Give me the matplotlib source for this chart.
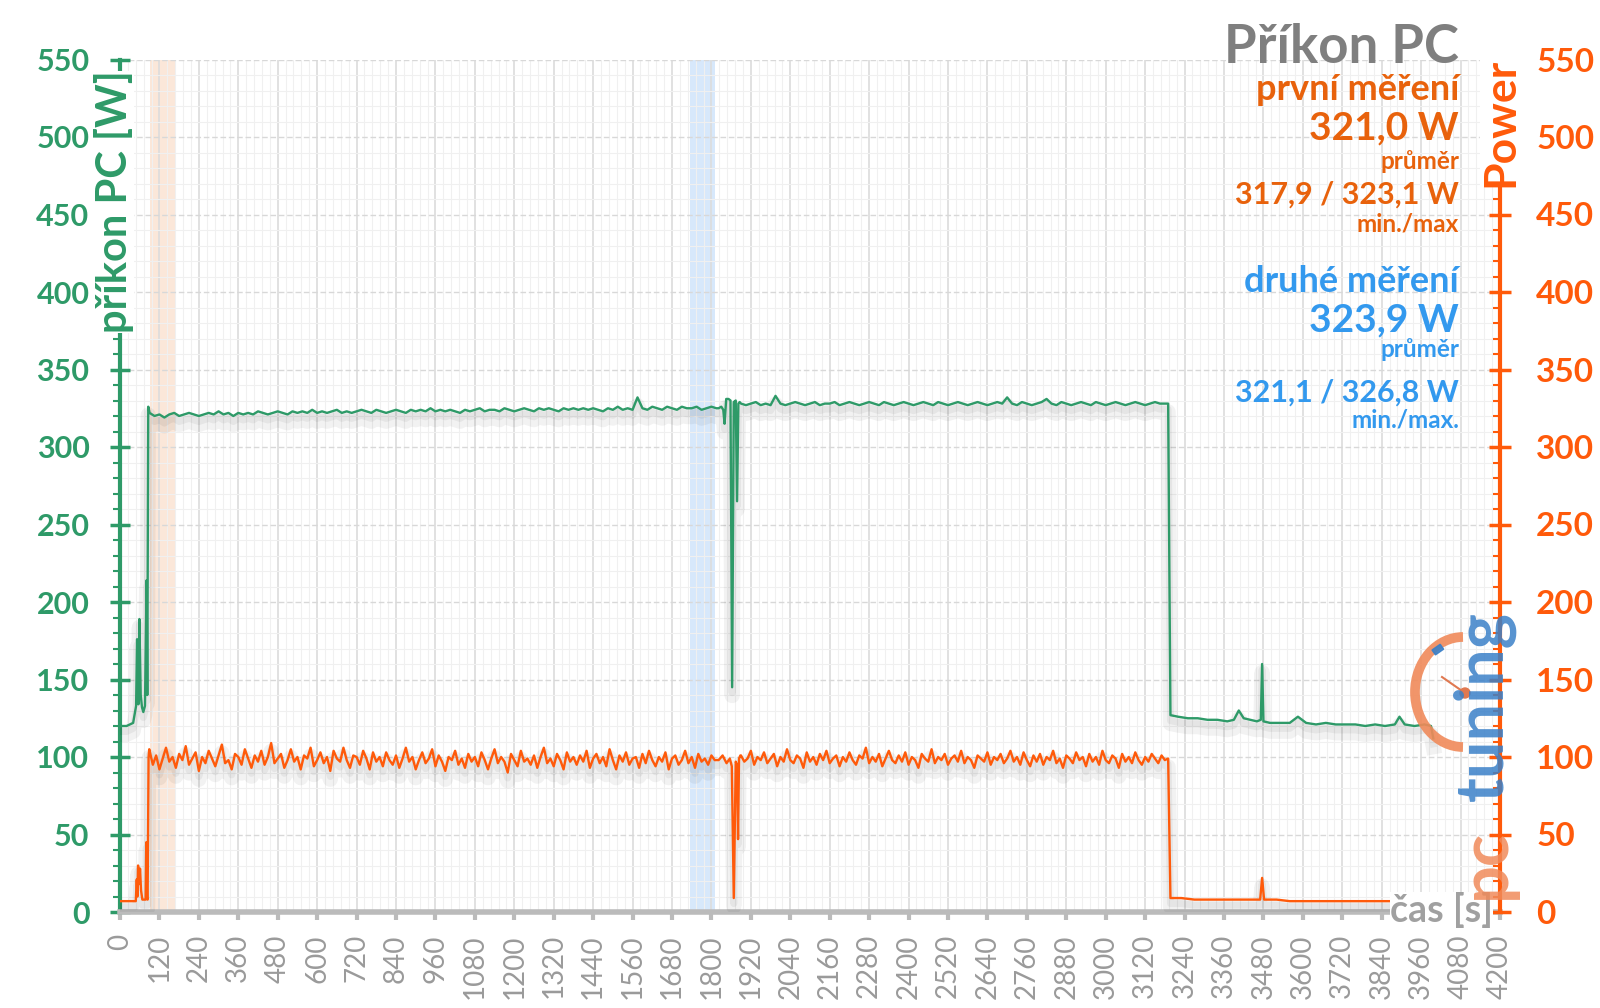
import numpy as np
import matplotlib
matplotlib.use('AGG')
import matplotlib.pyplot as plt
import matplotlib.patheffects as pe
from matplotlib.patches import Arc, Circle, Rectangle
from matplotlib.ticker import MultipleLocator

plt.rcParams['font.family'] = ['Lato', 'DejaVu Sans']

GREEN = '#2e9a68'
ORANGE = '#ff5a0a'
ORANGE_TXT = '#e8620c'
BLUE = '#3399ee'
GRAY = '#7f7f7f'

# --- data ---
# start-up phase
green_t_start = [0, 20, 40, 49, 52, 56, 59, 63, 67, 71, 76, 81, 83, 86]
green_v_start = [120, 120, 122, 133, 176, 134, 189, 140, 132, 129, 133, 214, 140, 326]
orange_t_start = [0, 48, 51, 53, 55, 58, 61, 64, 68, 72, 78, 80, 82, 84, 87, 89]
orange_v_start = [7, 7, 21, 10, 30, 18, 28, 14, 8, 8, 8, 45, 9, 8, 100, 105]

# plateaus: green sampled every 15 s, orange every 10 s
plateau1_start = 90
plateau2_start = 1890
green_step = 15
orange_step = 10

green_plateau1 = [
    322, 320, 321, 319, 321, 322, 320, 321, 322, 321,
    320, 321, 322, 321, 323, 321, 322, 320, 322, 321,
    322, 321, 323, 322, 321, 322, 323, 322, 321, 323,
    322, 323, 322, 324, 322, 323, 322, 323, 324, 322,
    323, 322, 323, 324, 323, 322, 324, 323, 322, 323,
    324, 323, 322, 324, 323, 324, 323, 325, 323, 324,
    323, 324, 323, 322, 324, 323, 324, 325, 323, 324,
    324, 323, 325, 324, 323, 324, 325, 324, 323, 325,
    324, 325, 324, 323, 325, 324, 325, 324, 325, 324,
    325, 324, 323, 325, 324, 326, 324, 325, 324, 332,
    325, 324, 326, 325, 324, 326, 325, 324, 326, 325,
    325, 326, 324, 325, 326, 325]
orange_plateau1 = [
    104, 95, 101, 92, 99, 106, 97, 100, 93, 102,
    98, 107, 95, 99, 103, 91, 100, 96, 104, 99,
    94, 101, 108, 96, 98, 92, 102, 100, 95, 105,
    99, 93, 101, 97, 104, 95, 100, 109, 96, 99,
    102, 93, 98, 105, 97, 100, 92, 101, 99, 106,
    94, 98, 103, 96, 100, 91, 104, 99, 97, 106,
    98, 93, 101, 100, 95, 104, 99, 92, 103, 97,
    100, 94, 103, 98, 95, 101, 93, 99, 106, 97,
    100, 92, 98, 103, 96, 99, 105, 94, 101, 97,
    91, 100, 98, 104, 95, 99, 93, 102, 97, 100,
    94, 103, 98, 92, 99, 105, 96, 100, 97, 90,
    102, 98, 94, 104, 97, 99, 95, 101, 93, 100,
    106, 96, 99, 94, 102, 98, 92, 103, 97, 100,
    95, 101, 97, 104, 93, 99, 102, 96, 100, 94,
    105, 98, 92, 101, 97, 103, 95, 99, 100, 93,
    102, 96, 104, 98, 94, 100, 97, 103, 92, 99,
    101, 95, 98, 104, 96, 100, 93, 102, 97, 99,
    95, 101, 98]

# dropouts around 1850 s
green_t_spike = [1822, 1830, 1836, 1840, 1845, 1852, 1858, 1863, 1868, 1874, 1878, 1882, 1886]
green_v_spike = [325, 326, 324, 315, 331, 331, 330, 145, 329, 330, 265, 328, 329]
orange_t_spike = [1822, 1834, 1846, 1856, 1862, 1868, 1874, 1878, 1881, 1884, 1888]
orange_v_spike = [98, 101, 96, 99, 94, 9, 97, 95, 47, 99, 101]

green_plateau2 = [
    328, 327, 328, 329, 327, 328, 327, 333, 328, 327,
    328, 329, 328, 327, 328, 329, 327, 328, 328, 329,
    327, 328, 329, 328, 327, 328, 329, 328, 327, 329,
    328, 327, 328, 329, 328, 327, 328, 329, 328, 327,
    329, 328, 327, 328, 329, 328, 327, 328, 329, 328,
    327, 328, 329, 328, 332, 328, 327, 329, 328, 327,
    328, 329, 331, 328, 327, 329, 328, 327, 328, 329,
    328, 327, 329, 328, 327, 328, 329, 328, 327, 328,
    329, 328, 327, 328, 329, 328, 328]
orange_plateau2 = [
    101, 97, 99, 104, 95, 100, 98, 103, 96, 99,
    102, 94, 100, 97, 105, 98, 96, 101, 99, 93,
    103, 97, 100, 95, 102, 98, 104, 96, 99, 101,
    94, 100, 97, 103, 98, 95, 101, 99, 106, 96,
    100, 97, 102, 94, 99, 104, 98, 96, 101, 97,
    103, 95, 100, 98, 93, 102, 99, 97, 105, 96,
    100, 98, 102, 95, 99, 101, 97, 104, 96, 100,
    98, 93, 101, 99, 97, 103, 95, 100, 98, 102,
    96, 99, 104, 97, 100, 95, 103, 98, 94, 101,
    97, 102, 95, 100, 98, 104, 96, 99, 93, 101,
    99, 96, 103, 98, 100, 94, 102, 97, 100, 95,
    104, 98, 96, 101, 99, 93, 102, 97, 100, 96,
    103, 98, 95, 100, 97, 102, 99, 96, 101, 98]

# idle after the load ends
green_t_low = [3190, 3197, 3220, 3250, 3280, 3310, 3340, 3370, 3390, 3405, 3420, 3440, 3460,
               3472, 3476, 3480, 3500, 3530, 3560, 3585, 3610, 3640, 3670, 3700, 3730,
               3760, 3790, 3820, 3850, 3880, 3894, 3910, 3940, 3970, 3990, 3997]
green_v_low = [328, 127, 126, 125, 125, 124, 124, 123, 124, 130, 125, 124, 123,
               124, 160, 123, 122, 122, 122, 126, 122, 121, 122, 121, 121,
               121, 120, 121, 120, 121, 126, 121, 120, 121, 120, 112]
orange_t_low = [3190, 3197, 3230, 3270, 3310, 3350, 3390, 3430, 3470, 3476, 3482, 3520,
                3560, 3600, 3640, 3680, 3720, 3760, 3800, 3840, 3880]
orange_v_low = [99, 9, 9, 8, 8, 8, 8, 8, 8, 22, 8, 8, 7, 7, 7, 7, 7, 7, 7, 7, 7]

band_first = (90, 170)
band_second = (1735, 1810)

x_ticks = list(range(0, 4201, 120))
y_ticks = list(range(0, 551, 50))


def series(step, t_start, v_start, p1, t_spike, v_spike, p2, t_low, v_low):
    t1 = plateau1_start + step * np.arange(len(p1))
    t2 = plateau2_start + step * np.arange(len(p2))
    t = np.concatenate([t_start, t1, t_spike, t2, t_low])
    v = np.concatenate([v_start, p1, v_spike, p2, v_low])
    return t, v


green_t, green_v = series(green_step, green_t_start, green_v_start, green_plateau1,
                          green_t_spike, green_v_spike, green_plateau2,
                          green_t_low, green_v_low)
orange_t, orange_v = series(orange_step, orange_t_start, orange_v_start, orange_plateau1,
                            orange_t_spike, orange_v_spike, orange_plateau2,
                            orange_t_low, orange_v_low)

fig = plt.figure(figsize=(16, 10.08), dpi=100)
ax = fig.add_axes([120 / 1600, 96 / 1008, 1380 / 1600, 852.5 / 1008])

ax.axvspan(*band_first, color='#fbe2d0', alpha=0.8, zorder=0.3, lw=0)
ax.axvspan(*band_second, color='#d3e6fb', alpha=0.9, zorder=0.3, lw=0)

shadow = [pe.SimpleLineShadow(offset=(0, -6), shadow_color='k', alpha=0.05, linewidth=11),
          pe.SimpleLineShadow(offset=(0, -4), shadow_color='k', alpha=0.05, linewidth=5),
          pe.Normal()]
ax.plot(green_t, green_v, color=GREEN, lw=1.7, zorder=3, path_effects=shadow)
ax.plot(orange_t, orange_v, color=ORANGE, lw=1.7, zorder=3, path_effects=shadow)

ax.set_xlim(0, 4200)
ax.set_ylim(0, 550)
ax.set_xticks(x_ticks)
ax.set_xticklabels([str(x) for x in x_ticks])
ax.xaxis.set_minor_locator(MultipleLocator(24))
ax.set_yticks(y_ticks)
ax.yaxis.set_minor_locator(MultipleLocator(10))

ax.set_axisbelow(True)
ax.grid(which='major', axis='x', color='#dcdcdc', lw=1.2)
ax.grid(which='minor', axis='x', color='#f0f0f0', lw=0.8)
ax.grid(which='major', axis='y', color='#d8d8d8', lw=1.0, ls=(0, (4, 2)))
ax.grid(which='minor', axis='y', color='#f0f0f0', lw=0.8)

for s in ['top', 'right']:
    ax.spines[s].set_visible(False)
ax.spines['left'].set_color(GREEN)
ax.spines['left'].set_linewidth(3)
ax.spines['bottom'].set_color('#bbbbbb')
ax.spines['bottom'].set_linewidth(4)

ax.tick_params(axis='y', which='major', direction='inout', length=14, width=2.5,
               color=GREEN, labelcolor=GREEN, labelsize=22, pad=15)
ax.tick_params(axis='y', which='minor', direction='out', length=5, width=1.5, color=GREEN)
ax.tick_params(axis='x', which='major', direction='out', length=6, width=3,
               color='#bbbbbb', labelcolor='#9a9a9a', labelsize=20, labelrotation=90, pad=10)
ax.tick_params(axis='x', which='minor', length=0)
for lab in ax.get_yticklabels():
    lab.set_fontweight('bold')

ax2 = ax.twinx()
ax2.set_ylim(0, 550)
ax2.set_yticks(y_ticks)
ax2.yaxis.set_minor_locator(MultipleLocator(10))
for s in ['top', 'left', 'bottom']:
    ax2.spines[s].set_visible(False)
ax2.spines['right'].set_color(ORANGE)
ax2.spines['right'].set_linewidth(3)
ax2.tick_params(axis='y', which='major', direction='inout', length=16, width=2.5,
                color=ORANGE, labelcolor=ORANGE, labelsize=24, pad=18)
ax2.tick_params(axis='y', which='minor', direction='in', length=5, width=1.5, color=ORANGE)
for lab in ax2.get_yticklabels():
    lab.set_fontweight('bold')

# overlay in pixel coordinates for texts and logo
ov = fig.add_axes([0, 0, 1, 1])
ov.set_xlim(0, 1600)
ov.set_ylim(1008, 0)
ov.axis('off')
ov.patch.set_alpha(0)

ov.text(114, 202, 'příkon PC [W]', rotation=90, ha='center', va='center',
        color=GREEN, fontsize=30, fontweight='bold',
        bbox=dict(fc='white', ec='none', pad=0))
ov.text(1500, 122, 'Power', rotation=90, ha='center', va='center',
        color=ORANGE, fontsize=32, fontweight='bold',
        bbox=dict(fc='white', ec='none', pad=0))

xr = 1459
ov.text(xr, 63, 'Příkon PC', ha='right', va='baseline', color=GRAY, fontsize=38, fontweight='bold')
ov.text(xr, 100, 'první měření', ha='right', va='baseline', color=ORANGE_TXT, fontsize=26, fontweight='bold')
ov.text(xr, 139, '321,0 W', ha='right', va='baseline', color=ORANGE_TXT, fontsize=28, fontweight='bold')
ov.text(xr, 169, 'průměr', ha='right', va='baseline', color=ORANGE_TXT, fontsize=17.5, fontweight='bold')
ov.text(xr, 204, '317,9 / 323,1 W', ha='right', va='baseline', color=ORANGE_TXT, fontsize=22, fontweight='bold')
ov.text(xr, 231, 'min./max', ha='right', va='baseline', color=ORANGE_TXT, fontsize=17.5, fontweight='bold')
ov.text(xr, 292, 'druhé měření', ha='right', va='baseline', color=BLUE, fontsize=26, fontweight='bold')
ov.text(xr, 331, '323,9 W', ha='right', va='baseline', color=BLUE, fontsize=28, fontweight='bold')
ov.text(xr, 357, 'průměr', ha='right', va='baseline', color=BLUE, fontsize=17.5, fontweight='bold')
ov.text(xr, 402, '321,1 / 326,8 W', ha='right', va='baseline', color=BLUE, fontsize=22, fontweight='bold')
ov.text(xr, 427, 'min./max.', ha='right', va='baseline', color=BLUE, fontsize=17.5, fontweight='bold')

ov.text(1493, 910, 'čas [s]', ha='right', va='center', color='#a0a0a0', fontsize=27, fontweight='bold',
        bbox=dict(fc='white', ec='none', pad=0))

# pctuning logo
ov.text(1484, 706, 'tuning', rotation=90, ha='center', va='center', color='#3a80c8',
        fontsize=48, fontweight='bold', alpha=0.85)
ov.text(1486, 864, 'pc', rotation=90, ha='center', va='center', color='#f08a5a',
        fontsize=48, fontweight='bold', alpha=0.85)
ov.add_patch(Arc((1463, 692), 96, 110, theta1=90, theta2=270, color='#f08a5a', lw=7, alpha=0.9))
ov.add_patch(Rectangle((1432, 650), 10, 6, angle=-35, color='#3a80c8', alpha=0.9))
ov.plot([1442, 1465], [677, 693], color='#e07850', lw=1.5)
ov.add_patch(Circle((1465, 693), 5, color='#e07850'))

fig.savefig('out.png', dpi=100)
